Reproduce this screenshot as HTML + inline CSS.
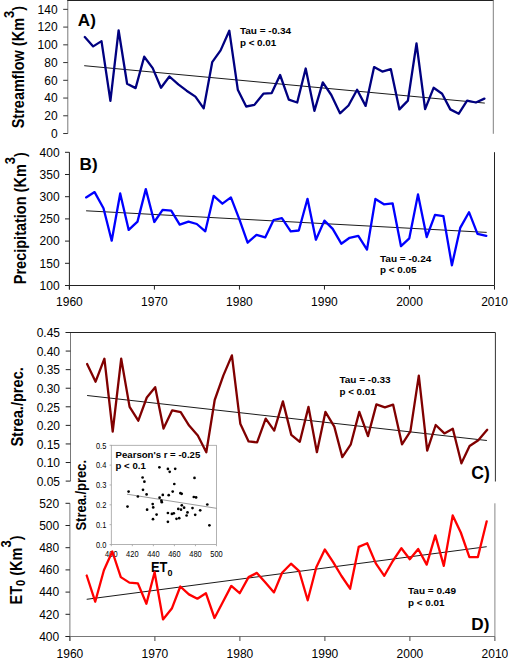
<!DOCTYPE html>
<html><head><meta charset="utf-8"><style>
html,body{margin:0;padding:0;background:#fff;}
body{width:508px;height:658px;overflow:hidden;}
svg{display:block;font-family:"Liberation Sans", sans-serif;}
</style></head><body>
<svg width="508" height="658" viewBox="0 0 508 658" font-family='"Liberation Sans", sans-serif' fill="#000">
<rect width="508" height="658" fill="#fff"/>
<line x1="67.80" y1="0.00" x2="67.80" y2="133.50" stroke="#7a7a7a" stroke-width="1.0"/>
<line x1="67.30" y1="0.50" x2="493.80" y2="0.50" stroke="#222" stroke-width="1.2"/>
<line x1="493.30" y1="0.00" x2="493.30" y2="133.80" stroke="#808080" stroke-width="1.0"/>
<line x1="63.20" y1="9.35" x2="67.80" y2="9.35" stroke="#333" stroke-width="1.0"/>
<text x="57.60" y="13.65" font-size="12" text-anchor="end">140</text>
<line x1="63.20" y1="27.09" x2="67.80" y2="27.09" stroke="#333" stroke-width="1.0"/>
<text x="57.60" y="31.39" font-size="12" text-anchor="end">120</text>
<line x1="63.20" y1="44.83" x2="67.80" y2="44.83" stroke="#333" stroke-width="1.0"/>
<text x="57.60" y="49.13" font-size="12" text-anchor="end">100</text>
<line x1="63.20" y1="62.57" x2="67.80" y2="62.57" stroke="#333" stroke-width="1.0"/>
<text x="57.60" y="66.87" font-size="12" text-anchor="end">80</text>
<line x1="63.20" y1="80.31" x2="67.80" y2="80.31" stroke="#333" stroke-width="1.0"/>
<text x="57.60" y="84.61" font-size="12" text-anchor="end">60</text>
<line x1="63.20" y1="98.05" x2="67.80" y2="98.05" stroke="#333" stroke-width="1.0"/>
<text x="57.60" y="102.35" font-size="12" text-anchor="end">40</text>
<line x1="63.20" y1="115.79" x2="67.80" y2="115.79" stroke="#333" stroke-width="1.0"/>
<text x="57.60" y="120.09" font-size="12" text-anchor="end">20</text>
<line x1="63.20" y1="133.53" x2="67.80" y2="133.53" stroke="#333" stroke-width="1.0"/>
<text x="57.60" y="137.83" font-size="12" text-anchor="end">0</text>
<text transform="translate(77.80,25.60) scale(1.02,1)" font-size="16.8" font-weight="bold">A)</text>
<g transform="translate(24.0,128.3) rotate(-90) scale(0.93,1)"><text x="0" y="0" font-size="15.6" font-weight="bold">Streamflow (Km<tspan font-size="14" dy="-10.5">3</tspan><tspan dy="10.5">)</tspan></text></g>
<line x1="84.20" y1="65.70" x2="484.80" y2="103.10" stroke="#000" stroke-width="0.9"/>
<polyline points="84.8,37.0 93.2,46.4 101.5,41.1 110.4,100.9 118.6,30.3 127.1,83.8 135.6,88.1 144.2,56.7 152.7,68.1 161.0,87.8 169.4,76.5 178.3,84.4 186.6,90.7 195.4,96.6 203.7,108.4 212.2,62.2 220.6,50.4 229.3,30.7 237.8,89.7 246.2,106.5 254.4,104.9 263.4,93.7 271.7,93.1 280.1,75.0 288.8,99.6 297.2,102.5 305.7,68.5 314.4,110.8 322.8,82.4 331.3,95.0 340.0,113.3 348.5,105.5 357.1,89.7 365.6,105.9 374.1,67.1 382.3,71.6 390.8,69.1 399.4,109.4 407.9,100.6 416.5,43.5 425.1,109.2 433.6,87.8 442.1,93.7 450.3,109.4 458.8,113.7 467.1,100.6 475.9,102.5 484.4,98.6" fill="none" stroke="#000080" stroke-width="2.3" stroke-linejoin="round" stroke-linecap="round"/>
<text transform="translate(239.90,33.60) scale(1.045,1)" font-size="9.6" font-weight="bold">Tau = -0.34</text>
<text transform="translate(239.90,45.60) scale(1.025,1)" font-size="9.6" font-weight="bold">p &lt; 0.01</text>
<line x1="69.40" y1="152.20" x2="69.40" y2="289.50" stroke="#222" stroke-width="1.0"/>
<line x1="65.00" y1="285.50" x2="494.50" y2="285.50" stroke="#222" stroke-width="1.0"/>
<line x1="494.50" y1="152.20" x2="494.50" y2="285.50" stroke="#222" stroke-width="1.0"/>
<line x1="65.00" y1="152.30" x2="69.40" y2="152.30" stroke="#222" stroke-width="1.0"/>
<text x="59.60" y="156.60" font-size="12" text-anchor="end">400</text>
<line x1="65.00" y1="174.50" x2="69.40" y2="174.50" stroke="#222" stroke-width="1.0"/>
<text x="59.60" y="178.80" font-size="12" text-anchor="end">350</text>
<line x1="65.00" y1="196.70" x2="69.40" y2="196.70" stroke="#222" stroke-width="1.0"/>
<text x="59.60" y="201.00" font-size="12" text-anchor="end">300</text>
<line x1="65.00" y1="218.90" x2="69.40" y2="218.90" stroke="#222" stroke-width="1.0"/>
<text x="59.60" y="223.20" font-size="12" text-anchor="end">250</text>
<line x1="65.00" y1="241.10" x2="69.40" y2="241.10" stroke="#222" stroke-width="1.0"/>
<text x="59.60" y="245.40" font-size="12" text-anchor="end">200</text>
<line x1="65.00" y1="263.30" x2="69.40" y2="263.30" stroke="#222" stroke-width="1.0"/>
<text x="59.60" y="267.60" font-size="12" text-anchor="end">150</text>
<line x1="65.00" y1="285.50" x2="69.40" y2="285.50" stroke="#222" stroke-width="1.0"/>
<text x="59.60" y="289.80" font-size="12" text-anchor="end">100</text>
<line x1="69.40" y1="285.50" x2="69.40" y2="289.60" stroke="#222" stroke-width="1.0"/>
<text x="69.40" y="306.40" font-size="12" text-anchor="middle">1960</text>
<line x1="154.42" y1="285.50" x2="154.42" y2="289.60" stroke="#222" stroke-width="1.0"/>
<text x="154.42" y="306.40" font-size="12" text-anchor="middle">1970</text>
<line x1="239.44" y1="285.50" x2="239.44" y2="289.60" stroke="#222" stroke-width="1.0"/>
<text x="239.44" y="306.40" font-size="12" text-anchor="middle">1980</text>
<line x1="324.46" y1="285.50" x2="324.46" y2="289.60" stroke="#222" stroke-width="1.0"/>
<text x="324.46" y="306.40" font-size="12" text-anchor="middle">1990</text>
<line x1="409.48" y1="285.50" x2="409.48" y2="289.60" stroke="#222" stroke-width="1.0"/>
<text x="409.48" y="306.40" font-size="12" text-anchor="middle">2000</text>
<line x1="494.50" y1="285.50" x2="494.50" y2="289.60" stroke="#222" stroke-width="1.0"/>
<text x="494.50" y="306.40" font-size="12" text-anchor="middle">2010</text>
<text transform="translate(79.60,169.50) scale(1.02,1)" font-size="16.8" font-weight="bold">B)</text>
<g transform="translate(25.7,284.2) rotate(-90) scale(0.93,1)"><text x="0" y="0" font-size="15.6" font-weight="bold">Precipitation (Km<tspan font-size="14" dy="-10.5">3</tspan><tspan dy="10.5">)</tspan></text></g>
<line x1="86.10" y1="210.80" x2="486.70" y2="232.40" stroke="#000" stroke-width="0.9"/>
<polyline points="86.1,197.4 94.6,192.1 103.5,208.2 111.7,240.7 120.2,193.5 128.7,229.9 137.5,221.6 145.8,189.1 154.3,222.0 162.6,209.8 171.2,210.6 179.7,224.6 188.5,221.6 196.8,224.0 205.3,231.3 213.7,195.8 222.4,203.7 230.9,197.4 239.3,219.1 247.6,242.7 256.5,234.8 265.2,237.4 273.6,220.0 281.9,218.1 290.7,231.3 298.8,230.5 307.5,198.8 315.9,239.7 324.4,220.6 332.7,228.9 341.3,243.7 349.6,237.8 358.3,235.8 367.0,249.6 375.4,199.0 383.9,204.3 392.6,203.3 401.0,246.2 409.3,238.3 418.0,194.4 426.7,237.0 435.0,214.9 443.4,216.1 451.9,265.3 460.2,227.9 469.0,212.2 477.5,233.8 486.3,235.8" fill="none" stroke="#0000ff" stroke-width="2.3" stroke-linejoin="round" stroke-linecap="round"/>
<text transform="translate(380.00,261.50) scale(1.045,1)" font-size="9.6" font-weight="bold">Tau = -0.24</text>
<text transform="translate(380.00,273.30) scale(1.025,1)" font-size="9.6" font-weight="bold">p &lt; 0.05</text>
<line x1="70.50" y1="332.50" x2="70.50" y2="481.10" stroke="#787878" stroke-width="1.0"/>
<line x1="65.70" y1="332.50" x2="495.40" y2="332.50" stroke="#222" stroke-width="1.0"/>
<line x1="495.40" y1="332.50" x2="495.40" y2="481.50" stroke="#333" stroke-width="1.0"/>
<line x1="65.70" y1="332.50" x2="70.50" y2="332.50" stroke="#222" stroke-width="1.0"/>
<text x="60.00" y="337.30" font-size="12" text-anchor="end">0.45</text>
<line x1="65.70" y1="351.07" x2="70.50" y2="351.07" stroke="#222" stroke-width="1.0"/>
<text x="60.00" y="355.88" font-size="12" text-anchor="end">0.40</text>
<line x1="65.70" y1="369.65" x2="70.50" y2="369.65" stroke="#222" stroke-width="1.0"/>
<text x="60.00" y="374.45" font-size="12" text-anchor="end">0.35</text>
<line x1="65.70" y1="388.23" x2="70.50" y2="388.23" stroke="#222" stroke-width="1.0"/>
<text x="60.00" y="393.03" font-size="12" text-anchor="end">0.30</text>
<line x1="65.70" y1="406.80" x2="70.50" y2="406.80" stroke="#222" stroke-width="1.0"/>
<text x="60.00" y="411.60" font-size="12" text-anchor="end">0.25</text>
<line x1="65.70" y1="425.38" x2="70.50" y2="425.38" stroke="#222" stroke-width="1.0"/>
<text x="60.00" y="430.18" font-size="12" text-anchor="end">0.20</text>
<line x1="65.70" y1="443.95" x2="70.50" y2="443.95" stroke="#222" stroke-width="1.0"/>
<text x="60.00" y="448.75" font-size="12" text-anchor="end">0.15</text>
<line x1="65.70" y1="462.52" x2="70.50" y2="462.52" stroke="#222" stroke-width="1.0"/>
<text x="60.00" y="467.32" font-size="12" text-anchor="end">0.10</text>
<line x1="65.70" y1="481.10" x2="70.50" y2="481.10" stroke="#222" stroke-width="1.0"/>
<text x="60.00" y="485.90" font-size="12" text-anchor="end">0.05</text>
<text transform="translate(471.30,478.60) scale(0.99,1)" font-size="17.8" font-weight="bold">C)</text>
<g transform="translate(23.4,446.6) rotate(-90) scale(0.935,1)"><text x="0" y="0" font-size="15.6" font-weight="bold">Strea./prec.</text></g>
<line x1="87.10" y1="395.50" x2="486.90" y2="440.50" stroke="#000" stroke-width="0.9"/>
<line x1="69.90" y1="503.30" x2="69.90" y2="641.00" stroke="#787878" stroke-width="1.0"/>
<line x1="65.50" y1="636.50" x2="494.90" y2="636.50" stroke="#787878" stroke-width="1.0"/>
<line x1="494.90" y1="503.30" x2="494.90" y2="636.50" stroke="#888" stroke-width="1.0"/>
<line x1="65.50" y1="503.30" x2="69.90" y2="503.30" stroke="#222" stroke-width="1.0"/>
<text x="59.20" y="507.60" font-size="12" text-anchor="end">520</text>
<line x1="65.50" y1="525.50" x2="69.90" y2="525.50" stroke="#222" stroke-width="1.0"/>
<text x="59.20" y="529.80" font-size="12" text-anchor="end">500</text>
<line x1="65.50" y1="547.70" x2="69.90" y2="547.70" stroke="#222" stroke-width="1.0"/>
<text x="59.20" y="552.00" font-size="12" text-anchor="end">480</text>
<line x1="65.50" y1="569.90" x2="69.90" y2="569.90" stroke="#222" stroke-width="1.0"/>
<text x="59.20" y="574.20" font-size="12" text-anchor="end">460</text>
<line x1="65.50" y1="592.10" x2="69.90" y2="592.10" stroke="#222" stroke-width="1.0"/>
<text x="59.20" y="596.40" font-size="12" text-anchor="end">440</text>
<line x1="65.50" y1="614.30" x2="69.90" y2="614.30" stroke="#222" stroke-width="1.0"/>
<text x="59.20" y="618.60" font-size="12" text-anchor="end">420</text>
<line x1="65.50" y1="636.50" x2="69.90" y2="636.50" stroke="#222" stroke-width="1.0"/>
<text x="59.20" y="640.80" font-size="12" text-anchor="end">400</text>
<line x1="69.90" y1="636.50" x2="69.90" y2="641.00" stroke="#444" stroke-width="1.0"/>
<text x="69.90" y="658.40" font-size="12" text-anchor="middle">1960</text>
<line x1="154.90" y1="636.50" x2="154.90" y2="641.00" stroke="#444" stroke-width="1.0"/>
<text x="154.90" y="658.40" font-size="12" text-anchor="middle">1970</text>
<line x1="239.90" y1="636.50" x2="239.90" y2="641.00" stroke="#444" stroke-width="1.0"/>
<text x="239.90" y="658.40" font-size="12" text-anchor="middle">1980</text>
<line x1="324.90" y1="636.50" x2="324.90" y2="641.00" stroke="#444" stroke-width="1.0"/>
<text x="324.90" y="658.40" font-size="12" text-anchor="middle">1990</text>
<line x1="409.90" y1="636.50" x2="409.90" y2="641.00" stroke="#444" stroke-width="1.0"/>
<text x="409.90" y="658.40" font-size="12" text-anchor="middle">2000</text>
<line x1="494.90" y1="636.50" x2="494.90" y2="641.00" stroke="#444" stroke-width="1.0"/>
<text x="494.90" y="658.40" font-size="12" text-anchor="middle">2010</text>
<text transform="translate(471.30,629.90) scale(1.02,1)" font-size="16.8" font-weight="bold">D)</text>
<g transform="translate(21.6,604.5) rotate(-90) scale(0.93,1)"><text x="0" y="0" font-size="15.6" font-weight="bold">ET<tspan font-size="12" dy="3.5">0</tspan><tspan dy="-3.5"> (Km</tspan><tspan font-size="14" dy="-10.5">3</tspan><tspan dy="10.5">)</tspan></text></g>
<line x1="86.70" y1="599.30" x2="486.70" y2="546.70" stroke="#000" stroke-width="0.9"/>
<text transform="translate(408.00,594.20) scale(1.045,1)" font-size="9.6" font-weight="bold">Tau = 0.49</text>
<text transform="translate(408.00,606.30) scale(1.025,1)" font-size="9.6" font-weight="bold">p &lt; 0.01</text>
<rect x="111.3" y="445.3" width="105.2" height="99.19999999999999" fill="none" stroke="#a0a0a0" stroke-width="0.8"/>
<line x1="109.60" y1="445.30" x2="111.30" y2="445.30" stroke="#a0a0a0" stroke-width="0.8"/>
<text transform="translate(106.3,448.50) scale(0.83,1)" font-size="9" text-anchor="end">0.5</text>
<line x1="109.60" y1="465.14" x2="111.30" y2="465.14" stroke="#a0a0a0" stroke-width="0.8"/>
<text transform="translate(106.3,468.34) scale(0.83,1)" font-size="9" text-anchor="end">0.4</text>
<line x1="109.60" y1="484.98" x2="111.30" y2="484.98" stroke="#a0a0a0" stroke-width="0.8"/>
<text transform="translate(106.3,488.18) scale(0.83,1)" font-size="9" text-anchor="end">0.3</text>
<line x1="109.60" y1="504.82" x2="111.30" y2="504.82" stroke="#a0a0a0" stroke-width="0.8"/>
<text transform="translate(106.3,508.02) scale(0.83,1)" font-size="9" text-anchor="end">0.2</text>
<line x1="109.60" y1="524.66" x2="111.30" y2="524.66" stroke="#a0a0a0" stroke-width="0.8"/>
<text transform="translate(106.3,527.86) scale(0.83,1)" font-size="9" text-anchor="end">0.1</text>
<line x1="109.60" y1="544.50" x2="111.30" y2="544.50" stroke="#a0a0a0" stroke-width="0.8"/>
<text transform="translate(106.3,547.70) scale(0.83,1)" font-size="9" text-anchor="end">0.0</text>
<line x1="111.30" y1="544.50" x2="111.30" y2="546.20" stroke="#a0a0a0" stroke-width="0.8"/>
<text transform="translate(111.30,556.8) scale(0.83,1)" font-size="9" text-anchor="middle">400</text>
<line x1="132.34" y1="544.50" x2="132.34" y2="546.20" stroke="#a0a0a0" stroke-width="0.8"/>
<text transform="translate(132.34,556.8) scale(0.83,1)" font-size="9" text-anchor="middle">420</text>
<line x1="153.38" y1="544.50" x2="153.38" y2="546.20" stroke="#a0a0a0" stroke-width="0.8"/>
<text transform="translate(153.38,556.8) scale(0.83,1)" font-size="9" text-anchor="middle">440</text>
<line x1="174.42" y1="544.50" x2="174.42" y2="546.20" stroke="#a0a0a0" stroke-width="0.8"/>
<text transform="translate(174.42,556.8) scale(0.83,1)" font-size="9" text-anchor="middle">460</text>
<line x1="195.46" y1="544.50" x2="195.46" y2="546.20" stroke="#a0a0a0" stroke-width="0.8"/>
<text transform="translate(195.46,556.8) scale(0.83,1)" font-size="9" text-anchor="middle">480</text>
<line x1="216.50" y1="544.50" x2="216.50" y2="546.20" stroke="#a0a0a0" stroke-width="0.8"/>
<text transform="translate(216.50,556.8) scale(0.83,1)" font-size="9" text-anchor="middle">500</text>
<g transform="translate(86.0,530.6) rotate(-90) scale(0.915,1)"><text x="0" y="0" font-size="14.2" font-weight="bold">Strea./prec.</text></g>
<text transform="translate(151.0,571.9) scale(0.92,1)" font-size="14" font-weight="bold">ET<tspan font-size="9.8" dy="4">0</tspan></text>
<text transform="translate(115.60,457.60) scale(0.98,1)" font-size="9.8" font-weight="bold">Pearson's r = -0.25</text>
<text transform="translate(115.60,469.40) scale(0.98,1)" font-size="9.8" font-weight="bold">p &lt; 0.1</text>
<line x1="127.00" y1="494.20" x2="216.50" y2="508.30" stroke="#707070" stroke-width="0.7"/>
<circle cx="159.4" cy="467.3" r="1.35" fill="#000"/>
<circle cx="167.9" cy="468.9" r="1.35" fill="#000"/>
<circle cx="169.7" cy="471.8" r="1.35" fill="#000"/>
<circle cx="175.2" cy="468.8" r="1.35" fill="#000"/>
<circle cx="142.6" cy="477.5" r="1.35" fill="#000"/>
<circle cx="194.5" cy="477.9" r="1.35" fill="#000"/>
<circle cx="144.4" cy="481.7" r="1.35" fill="#000"/>
<circle cx="174.3" cy="484.0" r="1.35" fill="#000"/>
<circle cx="143.0" cy="489.8" r="1.35" fill="#000"/>
<circle cx="128.6" cy="491.6" r="1.35" fill="#000"/>
<circle cx="172.7" cy="491.6" r="1.35" fill="#000"/>
<circle cx="180.4" cy="493.2" r="1.35" fill="#000"/>
<circle cx="181.7" cy="493.8" r="1.35" fill="#000"/>
<circle cx="137.9" cy="496.5" r="1.35" fill="#000"/>
<circle cx="146.6" cy="494.4" r="1.35" fill="#000"/>
<circle cx="162.8" cy="494.9" r="1.35" fill="#000"/>
<circle cx="168.7" cy="495.2" r="1.35" fill="#000"/>
<circle cx="159.6" cy="497.7" r="1.35" fill="#000"/>
<circle cx="193.8" cy="497.0" r="1.35" fill="#000"/>
<circle cx="196.1" cy="497.4" r="1.35" fill="#000"/>
<circle cx="161.4" cy="500.7" r="1.35" fill="#000"/>
<circle cx="161.8" cy="502.2" r="1.35" fill="#000"/>
<circle cx="127.5" cy="506.6" r="1.35" fill="#000"/>
<circle cx="152.7" cy="504.1" r="1.35" fill="#000"/>
<circle cx="153.2" cy="507.4" r="1.35" fill="#000"/>
<circle cx="147.1" cy="509.7" r="1.35" fill="#000"/>
<circle cx="156.6" cy="514.6" r="1.35" fill="#000"/>
<circle cx="153.0" cy="519.2" r="1.35" fill="#000"/>
<circle cx="207.3" cy="504.5" r="1.35" fill="#000"/>
<circle cx="181.8" cy="505.3" r="1.35" fill="#000"/>
<circle cx="184.1" cy="507.7" r="1.35" fill="#000"/>
<circle cx="178.3" cy="508.9" r="1.35" fill="#000"/>
<circle cx="181.0" cy="509.7" r="1.35" fill="#000"/>
<circle cx="192.5" cy="508.1" r="1.35" fill="#000"/>
<circle cx="200.2" cy="510.3" r="1.35" fill="#000"/>
<circle cx="167.9" cy="513.0" r="1.35" fill="#000"/>
<circle cx="171.9" cy="513.9" r="1.35" fill="#000"/>
<circle cx="173.8" cy="513.3" r="1.35" fill="#000"/>
<circle cx="187.5" cy="512.4" r="1.35" fill="#000"/>
<circle cx="186.6" cy="515.5" r="1.35" fill="#000"/>
<circle cx="195.2" cy="514.8" r="1.35" fill="#000"/>
<circle cx="176.5" cy="518.8" r="1.35" fill="#000"/>
<circle cx="179.2" cy="518.2" r="1.35" fill="#000"/>
<circle cx="167.9" cy="521.8" r="1.35" fill="#000"/>
<circle cx="209.4" cy="525.3" r="1.35" fill="#000"/>
<polyline points="87.1,364.0 95.6,381.7 104.4,358.7 112.7,431.5 121.2,358.7 129.6,406.9 138.3,420.7 146.8,397.5 155.2,387.2 163.5,428.6 172.2,410.3 180.7,412.2 189.1,425.6 197.8,435.5 206.3,452.2 214.7,400.0 223.4,375.4 231.9,355.4 240.3,423.7 248.6,441.4 257.1,442.4 265.7,418.7 274.2,430.6 282.9,401.4 291.3,434.9 299.8,441.8 308.5,406.9 316.9,452.2 325.4,411.9 334.3,426.6 342.3,457.1 350.8,444.3 359.3,411.9 368.0,436.1 376.4,404.4 384.9,407.3 393.1,404.6 402.0,444.3 410.4,431.3 418.8,375.7 427.2,450.7 435.7,425.0 444.4,433.4 452.8,428.7 461.4,463.3 469.6,446.0 478.3,440.2 487.2,429.8" fill="none" stroke="#800000" stroke-width="2.3" stroke-linejoin="round" stroke-linecap="round"/>
<polyline points="86.7,575.5 95.2,601.7 103.9,570.2 112.3,551.5 120.8,577.1 129.4,582.6 137.9,583.4 146.4,603.7 154.6,572.2 163.0,619.4 171.8,608.6 180.3,586.5 188.9,594.4 197.4,598.7 205.9,593.2 214.5,618.0 223.0,601.7 231.3,585.9 239.7,593.2 248.6,577.1 256.9,572.9 265.4,582.6 274.0,592.4 282.1,572.8 291.0,563.7 299.2,571.2 307.7,600.3 316.3,567.2 324.8,549.5 333.3,562.3 341.5,576.0 350.1,588.7 358.7,546.9 367.2,543.3 375.8,563.4 384.3,575.8 392.8,561.0 401.4,548.2 409.8,559.2 418.2,549.0 426.7,564.6 435.3,535.4 443.8,565.9 452.7,515.4 460.8,532.5 469.4,557.1 477.9,557.1 486.7,521.3" fill="none" stroke="#ff0000" stroke-width="2.3" stroke-linejoin="round" stroke-linecap="round"/>
<text transform="translate(339.40,383.40) scale(1.045,1)" font-size="9.6" font-weight="bold">Tau = -0.33</text>
<text transform="translate(339.40,395.20) scale(1.025,1)" font-size="9.6" font-weight="bold">p &lt; 0.01</text>
</svg>
</body></html>
